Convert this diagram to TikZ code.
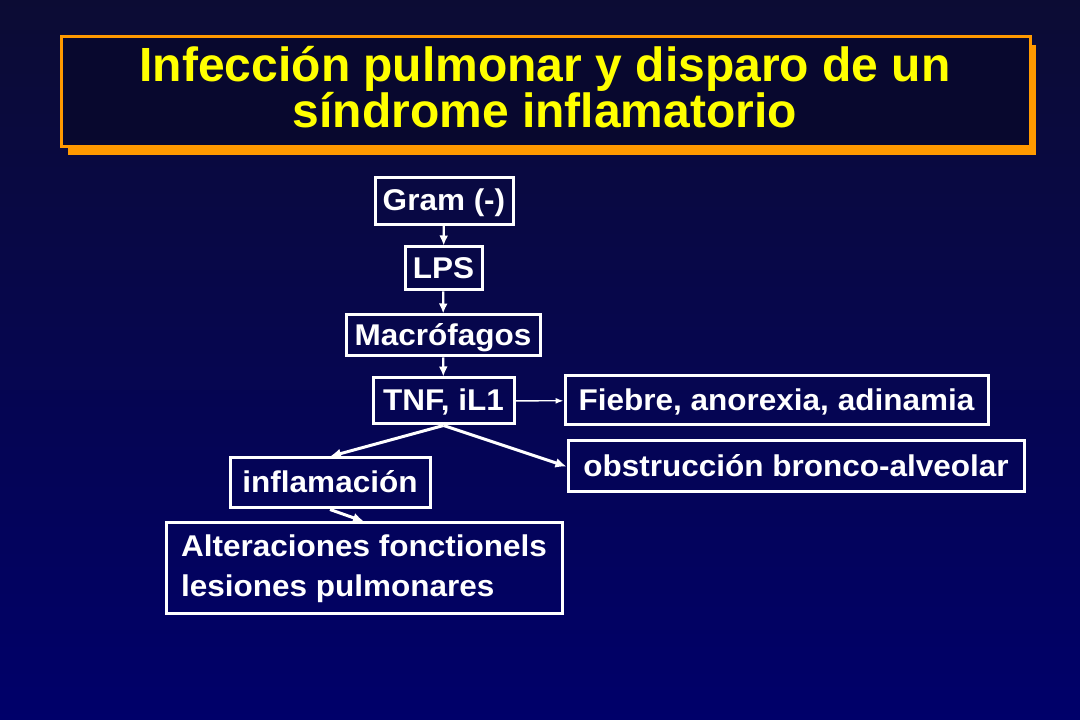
\documentclass[tikz,border=0pt]{standalone}
\usepackage{fontspec}
\setmainfont{Liberation Sans}[FakeStretch=1.05]
\newfontfamily\titlefont{Liberation Sans}
\usetikzlibrary{arrows.meta}
\definecolor{bgtop}{RGB}{12,12,52}
\definecolor{bgbottom}{RGB}{0,0,106}
\definecolor{titlefill}{RGB}{8,8,46}
\definecolor{titleorange}{RGB}{255,153,0}
\definecolor{titleyellow}{RGB}{255,255,0}
\tikzset{
    box/.style={draw=white,line width=3pt,text=white,inner sep=0pt,
        font=\bfseries\fontsize{30}{40}\selectfont,text height=24pt,text depth=4pt},
    arr/.style={-{Latex[length=10pt,width=9pt]},white,line width=2.2pt},
    diagarr/.style={-{Latex[length=11pt,width=10pt]},white,line width=3pt},
    thinarr/.style={-{Latex[length=8pt,width=6pt]},white,line width=1.3pt}
}
\begin{document}
\begin{tikzpicture}[x=1pt,y=1pt]
        % fondo
        \shade[top color=bgtop,bottom color=bgbottom] (0,0) rectangle (1080,720);

        % titulo
        \fill[titleorange] (68,565) rectangle (1036,675);
        \draw[titleorange,line width=3pt,fill=titlefill] (61,573) rectangle (1030,683);
        \node[text=titleyellow,align=center,font=\titlefont\bfseries\fontsize{48}{44}\selectfont] (titulo) at (545,633)
            {Infección pulmonar y disparo de un\\síndrome inflamatorio};

        % cadena
        \node[box,minimum width=138pt,minimum height=47pt] (gram) at (444,519) {Gram (-)};
        \node[box,minimum width=77pt,minimum height=43pt] (lps) at (443.5,451.5) {LPS};
        \node[box,minimum width=194pt,minimum height=41pt] (macro) at (443,384.5) {Macrófagos};
        \node[box,minimum width=141pt,minimum height=46pt] (tnf) at (443.5,319) {TNF, iL1};

        % efectos
        \node[box,minimum width=423pt,minimum height=49pt] (fiebre) at (776.5,319.5) {Fiebre, anorexia, adinamia};
        \node[box,minimum width=456pt,minimum height=51pt] (obstr) at (796,253.5) {obstrucción bronco-alveolar};
        \node[box,minimum width=200pt,minimum height=50pt] (infl) at (330,237) {inflamación};
        \node[box,minimum width=396pt,minimum height=91pt,align=left,text height=,text depth=] (alter) at (364,151.5)
            {Alteraciones fonctionels\\lesiones pulmonares};

        % flechas
        \draw[arr] (gram) -- (lps);
        \draw[arr] (lps) -- (macro);
        \draw[arr] (macro) -- (tnf);
        \draw[thinarr] (tnf) -- (fiebre);
        \draw[diagarr] (tnf.south) -- (infl.north);
        \draw[diagarr] (tnf.south) -- (obstr.west);
        \draw[diagarr] (infl.south) -- (alter.north);
    \end{tikzpicture}
\end{document}
